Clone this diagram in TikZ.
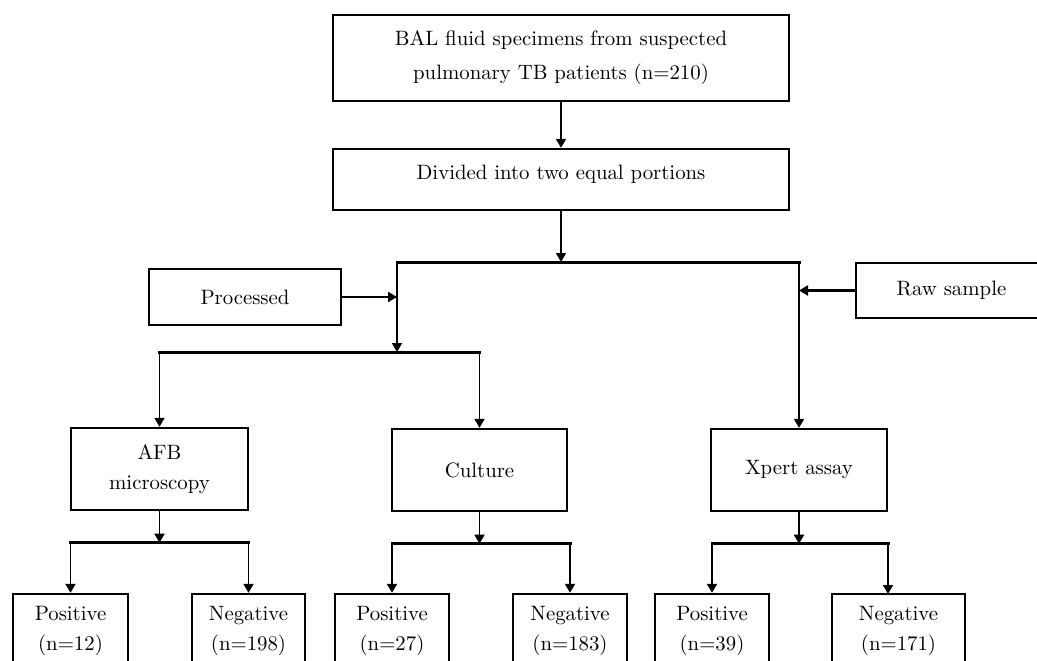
\documentclass[tikz,border=0pt]{standalone}
\usepackage{tikz}
\usetikzlibrary{positioning, arrows.meta}

\begin{document}
\begin{tikzpicture}[
    x=0.5pt, y=-0.5pt,
    font=\fontsize{10.4}{15}\selectfont,
    block/.style={draw, line width=1.2pt, inner sep=0pt, align=center},
    result/.style={block, minimum height=37pt},
    arrow/.style={-{Triangle[length=4.5pt, width=5pt]}, line width=0.9pt},
    bar/.style={line width=1.5pt, line cap=rect}
]
\useasboundingbox (0,0) rectangle (1037,660);
\clip (0,0) rectangle (1037,660);

\node[block, minimum width=228pt, minimum height=43pt] (bal) at (561,58)
    {BAL fluid specimens from suspected\\[2pt]pulmonary TB patients (n=210)};
\node[block, minimum width=228pt, minimum height=30.5pt,
      text height=7pt, text depth=7.5pt] (div) at (561,179.5) {Divided into two equal portions};

\node[block, minimum width=96pt, minimum height=28pt] (proc) at (245,297) {Processed};
\node[block, minimum width=95.5pt, minimum height=27.5pt] (raw) at (951.5,290.5) {Raw sample};

\node[block, minimum width=88.5pt, minimum height=41pt] (afb) at (159.5,469) {AFB\\microscopy};
\node[block, minimum width=87.5pt, minimum height=41pt] (cult) at (479.5,470) {Culture};
\node[block, minimum width=88pt, minimum height=41pt] (xpert) at (799,470) {Xpert assay};

\node[result, minimum width=57.5pt] (pos1) at (70.5,631) {Positive\\(n=12)};
\node[result, minimum width=56.5pt] (neg1) at (248.5,631) {Negative\\(n=198)};
\node[result, minimum width=57pt] (pos2) at (392,631) {Positive\\(n=27)};
\node[result, minimum width=57pt] (neg2) at (570,631) {Negative\\(n=183)};
\node[result, minimum width=57pt] (pos3) at (712,631) {Positive\\(n=39)};
\node[result, minimum width=66.5pt] (neg3) at (898.5,631) {Negative\\(n=171)};
\coordinate (neg3in) at (888,594);

% split into processed / raw
\coordinate (procL) at (397,262);
\coordinate (rawR) at (799,262);
\coordinate (procB) at (397,352);

\draw[arrow] (bal) -- (div);
\draw[arrow] (div) -- (div |- procL);
\draw[bar] (procL) -- (rawR);
\draw[arrow, line width=1.3pt] (proc) -- (proc -| procL);
\draw[arrow, line width=1.3pt] (raw) -- (raw -| rawR);

\draw[arrow] (procL) -- (procB);
\draw[bar] (afb |- procB) -- (cult |- procB);
\draw[arrow] (afb |- procB) -- (afb);
\draw[arrow] (cult |- procB) -- (cult);
\draw[arrow] (rawR) -- (xpert);

% results
\foreach \test/\pos/\neg in {afb/pos1/neg1, cult/pos2/neg2, xpert/pos3/neg3in} {
    \path (\test.south) ++(0,31.5) coordinate (\test fork);
    \draw[arrow] (\test) -- (\test fork);
    \draw[bar] (\pos |- \test fork) -- (\neg |- \test fork);
    \draw[arrow] (\pos |- \test fork) -- (\pos);
    \draw[arrow] (\neg |- \test fork) -- (\neg);
}

\end{tikzpicture}
\end{document}
